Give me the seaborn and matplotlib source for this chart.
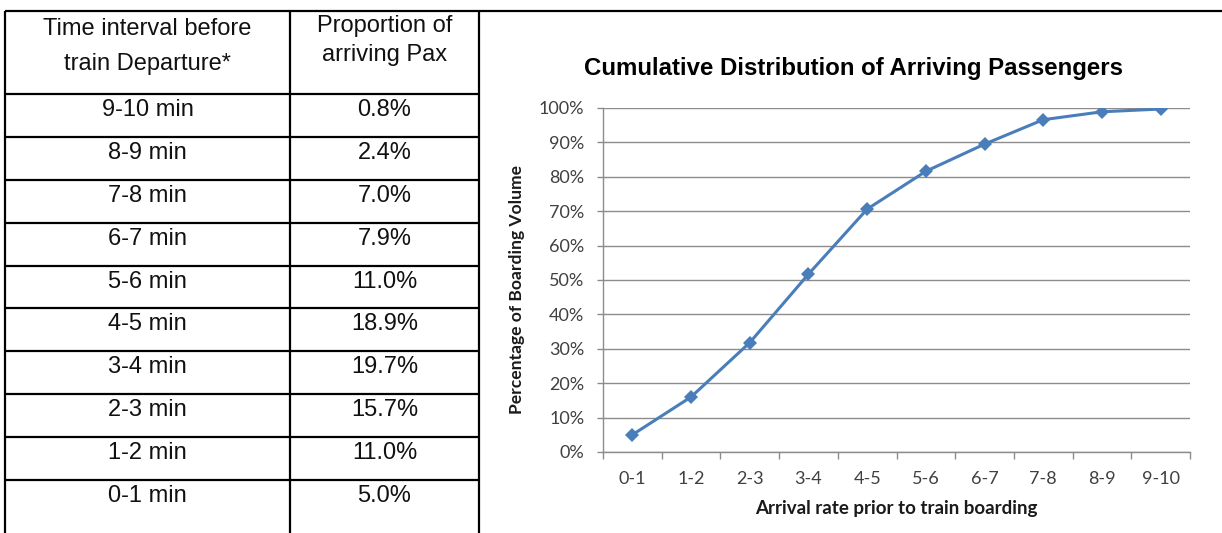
import numpy as np
import pandas as pd
import matplotlib
matplotlib.use("Agg")
import matplotlib.pyplot as plt
import seaborn as sns
from matplotlib.ticker import PercentFormatter

# ข้อมูลตาราง (ซ้าย)
intervals = ["9-10 min", "8-9 min", "7-8 min", "6-7 min", "5-6 min",
             "4-5 min", "3-4 min", "2-3 min", "1-2 min", "0-1 min"]
proportions = ["0.8%", "2.4%", "7.0%", "7.9%", "11.0%",
               "18.9%", "19.7%", "15.7%", "11.0%", "5.0%"]

# ข้อมูลกราฟ (ขวา) อ่านค่าจากภาพ
categories = ["0-1", "1-2", "2-3", "3-4", "4-5", "5-6", "6-7", "7-8", "8-9", "9-10"]
cumulative = [5.0, 16.0, 31.8, 51.7, 70.6, 81.6, 89.5, 96.6, 98.9, 99.7]

W, H = 1222, 533
sns.set_theme(style="white")
plt.rcParams["font.family"] = ["Liberation Sans", "DejaVu Sans"]

fig = plt.figure(figsize=(W / 100, H / 100), dpi=100)

# --- ตาราง: วาดเป็นพิกเซล ---
tab = fig.add_axes([0, 0, 1, 1])
tab.set_xlim(0, W)
tab.set_ylim(H, 0)
tab.axis("off")

x_left, x_mid, x_right = 5, 290, 479
y_top = 11
row_tops = np.linspace(94, 480, len(intervals))
lw = 1.6

tab.plot([x_left, W], [y_top, y_top], color="black", lw=lw, solid_capstyle="butt")
for xv in (x_left, x_mid, x_right):
    tab.plot([xv, xv], [y_top, H], color="black", lw=lw, solid_capstyle="butt")
for yv in row_tops:
    tab.plot([x_left, x_right], [yv, yv], color="black", lw=lw, solid_capstyle="butt")

c1 = (x_left + x_mid) / 2
c2 = (x_mid + x_right) / 2
fs = 17
tc = "#111111"
tab.text(c1, 29, "Time interval before", ha="center", va="center", fontsize=fs, color=tc)
tab.text(c1, 64, "train Departure*", ha="center", va="center", fontsize=fs, color=tc)
tab.text(c2, 26, "Proportion of", ha="center", va="center", fontsize=fs, color=tc)
tab.text(c2, 55, "arriving Pax", ha="center", va="center", fontsize=fs, color=tc)
for top, lab, val in zip(row_tops, intervals, proportions):
    tab.text(c1, top + 16, lab, ha="center", va="center", fontsize=fs, color=tc)
    tab.text(c2, top + 16, val, ha="center", va="center", fontsize=fs, color=tc)

# --- กราฟสะสม ---
ax_l, ax_r, ax_t, ax_b = 603, 1190, 108, 452
ax = fig.add_axes([ax_l / W, 1 - ax_b / H, (ax_r - ax_l) / W, (ax_b - ax_t) / H])

df = pd.DataFrame({"pos": np.arange(len(categories)), "cum": cumulative})
sns.lineplot(data=df, x="pos", y="cum", ax=ax, color="#4A7EBB", lw=2.2,
             marker="D", markersize=7, markeredgewidth=0, sort=False)

ax.set_xlim(-0.5, len(categories) - 0.5)
ax.set_ylim(0, 100)
grid_c = "#8c8c8c"
ax.set_yticks(np.arange(0, 101, 10))
ax.yaxis.set_major_formatter(PercentFormatter(decimals=0))
ax.grid(axis="y", color=grid_c, lw=1)
ax.set_axisbelow(True)

ax.set_xticks(np.arange(-0.5, len(categories), 1))
ax.set_xticklabels([])
ax.set_xticks(np.arange(len(categories)), minor=True)
ax.set_xticklabels(categories, minor=True)

for s in ("top", "right"):
    ax.spines[s].set_visible(False)
for s in ("left", "bottom"):
    ax.spines[s].set_color(grid_c)
    ax.spines[s].set_linewidth(1)

tick_font = "Lato"
ax.tick_params(axis="y", which="major", direction="out", length=4.5, width=1,
               color=grid_c, pad=9, labelsize=13, labelcolor="#404040", left=True)
ax.tick_params(axis="x", which="major", direction="out", length=5, width=1,
               color=grid_c, bottom=True)
ax.tick_params(axis="x", which="minor", length=0, pad=14, labelsize=13,
               labelcolor="#404040", bottom=True)
for t in ax.get_yticklabels() + ax.get_xticklabels(minor=True):
    t.set_family(tick_font)

ax.set_xlabel("Arrival rate prior to train boarding", fontsize=13.5, fontweight="bold",
              family=tick_font, color="#1a1a1a")
ax.xaxis.set_label_coords(0.5, -(500 - ax_b) / (ax_b - ax_t))
ax.set_ylabel("Percentage of Boarding Volume", fontsize=12.6, fontweight="bold",
              family=tick_font, color="#1a1a1a")
ax.yaxis.set_label_coords(-(ax_l - 525) / (ax_r - ax_l), (ax_b - 290) / (ax_b - ax_t))

fig.text(854 / W, 1 - 69 / H, "Cumulative Distribution of Arriving Passengers",
         ha="center", va="center", fontsize=17.3, fontweight="bold", color="black")

fig.savefig("out.png", dpi=100)
